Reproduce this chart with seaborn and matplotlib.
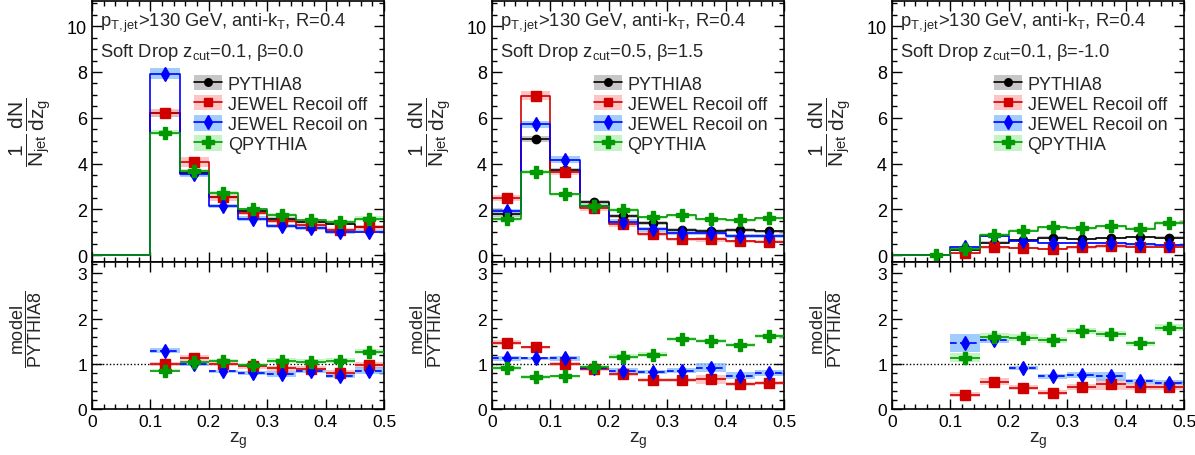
import numpy as np
import matplotlib
matplotlib.use("Agg")
import matplotlib.pyplot as plt
from matplotlib.lines import Line2D
from matplotlib.patches import Patch
from matplotlib.ticker import MultipleLocator
import seaborn as sns

nan = np.nan

# z_g binning (10 bins of 0.05)
zg_edges = [0.0, 0.05, 0.10, 0.15, 0.20, 0.25, 0.30, 0.35, 0.40, 0.45, 0.50]
zg_ticks = [0.0, 0.1, 0.2, 0.3, 0.4, 0.5]
zg_ticklabels = ["0", "0.1", "0.2", "0.3", "0.4", "0.5"]

models = ["PYTHIA8", "JEWEL Recoil off", "JEWEL Recoil on", "QPYTHIA"]
line_colors = ["black", "#d00000", "#0000ff", "#009900"]
band_colors = ["#b4b4b4", "#ffb0b0", "#80bbff", "#b0f0b0"]
markers = ["o", "s", "d", "P"]
marker_sizes = [6, 6.5, 7.5, 9]

zcut_labels = ["0.1", "0.5", "0.1"]
beta_labels = ["0.0", "1.5", "-1.0"]

# ---- panel 1 : zcut=0.1, beta=0.0 ----
p1_pythia = [nan, nan, 6.20, 3.57, 2.52, 1.95, 1.60, 1.45, 1.38, 1.25]
p1_off = [nan, nan, 6.22, 4.05, 2.53, 1.85, 1.49, 1.30, 1.10, 1.22]
p1_on = [nan, nan, 7.93, 3.55, 2.14, 1.59, 1.27, 1.20, 1.01, 1.03]
p1_q = [nan, nan, 5.35, 3.66, 2.72, 2.00, 1.74, 1.52, 1.45, 1.59]
p1_pythia_err = [nan, nan, 0.15, 0.10, 0.08, 0.07, 0.06, 0.06, 0.06, 0.06]
p1_off_err = [nan, nan, 0.15, 0.22, 0.15, 0.10, 0.10, 0.10, 0.10, 0.10]
p1_on_err = [nan, nan, 0.25, 0.12, 0.10, 0.10, 0.10, 0.10, 0.08, 0.08]
p1_q_err = [nan, nan, 0.10, 0.12, 0.10, 0.08, 0.08, 0.07, 0.07, 0.10]

p1_r_off = [nan, nan, 1.00, 1.13, 0.99, 0.94, 0.90, 0.89, 0.80, 0.98]
p1_r_on = [nan, nan, 1.29, 1.00, 0.83, 0.80, 0.77, 0.85, 0.73, 0.85]
p1_r_q = [nan, nan, 0.85, 1.03, 1.07, 0.98, 1.07, 1.05, 1.07, 1.27]
p1_r_off_err = [nan, nan, 0.04, 0.06, 0.05, 0.05, 0.06, 0.06, 0.06, 0.07]
p1_r_on_err = [nan, nan, 0.05, 0.04, 0.04, 0.05, 0.06, 0.06, 0.05, 0.07]
p1_r_q_err = [nan, nan, 0.04, 0.04, 0.04, 0.04, 0.05, 0.05, 0.05, 0.06]

# ---- panel 2 : zcut=0.5, beta=1.5 ----
p2_pythia = [1.78, 5.07, 3.70, 2.33, 1.71, 1.39, 1.10, 1.06, 1.10, 1.04]
p2_off = [2.50, 6.96, 3.63, 2.04, 1.35, 0.91, 0.69, 0.69, 0.61, 0.59]
p2_on = [1.92, 5.72, 4.17, 2.14, 1.46, 1.13, 0.96, 0.98, 0.84, 0.84]
p2_q = [1.59, 3.63, 2.65, 2.14, 1.97, 1.66, 1.74, 1.56, 1.53, 1.61]
p2_pythia_err = [0.10, 0.12, 0.10, 0.10, 0.09, 0.08, 0.08, 0.08, 0.08, 0.08]
p2_off_err = [0.12, 0.20, 0.12, 0.10, 0.10, 0.08, 0.08, 0.10, 0.06, 0.06]
p2_on_err = [0.10, 0.15, 0.15, 0.10, 0.10, 0.10, 0.08, 0.08, 0.08, 0.08]
p2_q_err = [0.08, 0.10, 0.08, 0.08, 0.08, 0.07, 0.07, 0.07, 0.07, 0.07]

p2_r_off = [1.47, 1.36, 0.99, 0.89, 0.77, 0.64, 0.64, 0.66, 0.55, 0.58]
p2_r_on = [1.12, 1.12, 1.12, 0.91, 0.85, 0.82, 0.85, 0.91, 0.74, 0.80]
p2_r_q = [0.91, 0.71, 0.72, 0.93, 1.16, 1.20, 1.55, 1.50, 1.42, 1.61]
p2_r_off_err = [0.05, 0.04, 0.05, 0.05, 0.05, 0.05, 0.05, 0.10, 0.05, 0.05]
p2_r_on_err = [0.05, 0.04, 0.05, 0.05, 0.05, 0.05, 0.05, 0.10, 0.07, 0.07]
p2_r_q_err = [0.05, 0.04, 0.04, 0.04, 0.05, 0.05, 0.05, 0.05, 0.05, 0.05]

# ---- panel 3 : zcut=0.1, beta=-1.0 ----
p3_pythia = [nan, nan, 0.23, 0.55, 0.67, 0.77, 0.70, 0.74, 0.79, 0.77]
p3_off = [nan, nan, 0.08, 0.34, 0.30, 0.27, 0.34, 0.39, 0.37, 0.37]
p3_on = [nan, nan, 0.35, 0.85, 0.61, 0.54, 0.52, 0.53, 0.47, 0.45]
p3_q = [nan, 0.00, 0.26, 0.89, 1.07, 1.21, 1.18, 1.26, 1.15, 1.40]
p3_pythia_err = [nan, nan, 0.04, 0.05, 0.05, 0.05, 0.05, 0.05, 0.05, 0.05]
p3_off_err = [nan, nan, 0.03, 0.05, 0.04, 0.04, 0.05, 0.08, 0.05, 0.06]
p3_on_err = [nan, nan, 0.06, 0.06, 0.05, 0.05, 0.05, 0.06, 0.05, 0.05]
p3_q_err = [nan, 0.03, 0.05, 0.06, 0.06, 0.06, 0.06, 0.06, 0.06, 0.07]

p3_r_off = [nan, nan, 0.32, 0.60, 0.47, 0.36, 0.49, 0.55, 0.48, 0.49]
p3_r_on = [nan, nan, 1.45, 1.53, 0.91, 0.72, 0.75, 0.72, 0.61, 0.58]
p3_r_q = [nan, nan, 1.13, 1.60, 1.58, 1.53, 1.73, 1.66, 1.45, 1.80]
p3_r_off_err = [nan, nan, 0.05, 0.08, 0.06, 0.05, 0.06, 0.12, 0.07, 0.07]
p3_r_on_err = [nan, nan, 0.20, 0.07, 0.05, 0.05, 0.06, 0.10, 0.06, 0.06]
p3_r_q_err = [nan, nan, 0.10, 0.08, 0.08, 0.07, 0.07, 0.07, 0.06, 0.08]

panels = [
    dict(vals=[p1_pythia, p1_off, p1_on, p1_q],
         errs=[p1_pythia_err, p1_off_err, p1_on_err, p1_q_err],
         ratio=[p1_r_off, p1_r_on, p1_r_q],
         ratio_err=[p1_r_off_err, p1_r_on_err, p1_r_q_err]),
    dict(vals=[p2_pythia, p2_off, p2_on, p2_q],
         errs=[p2_pythia_err, p2_off_err, p2_on_err, p2_q_err],
         ratio=[p2_r_off, p2_r_on, p2_r_q],
         ratio_err=[p2_r_off_err, p2_r_on_err, p2_r_q_err]),
    dict(vals=[p3_pythia, p3_off, p3_on, p3_q],
         errs=[p3_pythia_err, p3_off_err, p3_on_err, p3_q_err],
         ratio=[p3_r_off, p3_r_on, p3_r_q],
         ratio_err=[p3_r_off_err, p3_r_on_err, p3_r_q_err]),
]

sns.set_theme(style="ticks")
plt.rcParams["font.family"] = ["Liberation Sans", "DejaVu Sans"]
plt.rcParams["mathtext.fontset"] = "custom"
plt.rcParams["mathtext.rm"] = "Liberation Sans"
plt.rcParams["mathtext.it"] = "Liberation Sans"
plt.rcParams["mathtext.bf"] = "Liberation Sans:bold"
plt.rcParams["mathtext.sf"] = "Liberation Sans"

edges = np.array(zg_edges)
centers = 0.5 * (edges[:-1] + edges[1:])
bw = edges[1] - edges[0]


def style_axes(ax, fs):
    ax.tick_params(which="both", direction="in", top=True, right=True,
                   labelsize=fs, width=1.0, colors="black")
    ax.tick_params(which="major", length=7)
    ax.tick_params(which="minor", length=3.5)
    for s in ax.spines.values():
        s.set_linewidth(1.2)
        s.set_color("black")
    ax.set_xlim(0, 0.5)
    ax.xaxis.set_major_locator(MultipleLocator(0.1))
    ax.xaxis.set_minor_locator(MultipleLocator(0.02))


def draw_top(ax, vals, errs):
    for k in range(4):
        v = np.array(vals[k], dtype=float)
        e = np.array(errs[k], dtype=float)
        ok = ~np.isnan(v)
        ax.bar(centers[ok], 2 * e[ok], bottom=v[ok] - e[ok], width=bw,
               color=band_colors[k], alpha=0.75, lw=0, zorder=1)
    for k in range(4):
        v = np.nan_to_num(np.array(vals[k], dtype=float))
        sns.histplot(x=centers, weights=v, bins=zg_edges, element="step",
                     fill=False, color=line_colors[k], lw=1.2, ax=ax, zorder=2)
    for k in range(4):
        ax.plot(centers, vals[k], ls="none", marker=markers[k],
                ms=marker_sizes[k], color=line_colors[k], zorder=3)


def draw_ratio(ax, ratio, ratio_err):
    ax.axhline(1.0, color="black", ls=(0, (1, 1.5)), lw=1.0, zorder=1)
    for j in range(3):
        k = j + 1
        r = np.array(ratio[j], dtype=float)
        e = np.array(ratio_err[j], dtype=float)
        ok = ~np.isnan(r)
        ax.bar(centers[ok], 2 * e[ok], bottom=r[ok] - e[ok], width=bw,
               color=band_colors[k], alpha=0.75, lw=0, zorder=1)
    for j in range(3):
        k = j + 1
        r = np.array(ratio[j], dtype=float)
        ok = ~np.isnan(r)
        eb = ax.errorbar(centers[ok], r[ok], xerr=bw / 2, fmt=markers[k],
                         ms=marker_sizes[k], color=line_colors[k],
                         elinewidth=1.2, zorder=3)
        if k == 2:
            eb[2][0].set_linestyle((0, (4, 2)))


fig = plt.figure(figsize=(11.95, 4.56), dpi=100)
lefts = [0.0770, 0.4117, 0.7464]
width = 0.2444

legend_handles = [
    (Patch(facecolor=band_colors[k], alpha=0.75, lw=0),
     Line2D([0], [0], color=line_colors[k], marker=markers[k],
            ms=marker_sizes[k] * 0.9, lw=1.2))
    for k in range(4)
]

for i, pan in enumerate(panels):
    ax_top = fig.add_axes([lefts[i], 0.4232, width, 0.5724])
    ax_rat = fig.add_axes([lefts[i], 0.1009, width, 0.3223])

    draw_top(ax_top, pan["vals"], pan["errs"])
    style_axes(ax_top, 13)
    ax_top.set_ylim(-0.3, 11.1)
    ax_top.yaxis.set_major_locator(MultipleLocator(2))
    ax_top.yaxis.set_minor_locator(MultipleLocator(0.5))
    ax_top.set_yticks([0, 2, 4, 6, 8, 10])
    ax_top.set_yticklabels(["0", "2", "4", "6", "8", "10"])
    ax_top.set_xticks(zg_ticks)
    ax_top.tick_params(labelbottom=False)
    ax_top.set_xlabel("")
    ax_top.set_ylabel(r"$\dfrac{1}{N_{jet}}\,\dfrac{dN}{dz_{g}}$", fontsize=15)
    ax_top.yaxis.set_label_coords(-0.13, 0.5)

    ax_top.text(0.027, 0.905, r"p$_{\mathrm{T,jet}}$>130 GeV, anti-k$_{\mathrm{T}}$, R=0.4",
                transform=ax_top.transAxes, fontsize=13.2, va="baseline")
    ax_top.text(0.027, 0.79,
                r"Soft Drop z$_{\mathrm{cut}}$=" + zcut_labels[i] + ", β=" + beta_labels[i],
                transform=ax_top.transAxes, fontsize=13.2, va="baseline")

    ax_top.legend(legend_handles, models, loc="upper left",
                  bbox_to_anchor=(0.35, 0.718), frameon=False, fontsize=13,
                  handlelength=1.55, handleheight=0.95, labelspacing=0.12,
                  handletextpad=0.3, borderaxespad=0, borderpad=0)

    draw_ratio(ax_rat, pan["ratio"], pan["ratio_err"])
    style_axes(ax_rat, 12.5)
    ax_rat.set_ylim(0, 3.25)
    ax_rat.yaxis.set_major_locator(MultipleLocator(1))
    ax_rat.yaxis.set_minor_locator(MultipleLocator(0.2))
    ax_rat.set_xticks(zg_ticks)
    ax_rat.set_xticklabels(zg_ticklabels)
    ax_rat.set_yticks([0, 1, 2, 3])
    ax_rat.set_yticklabels(["0", "1", "2", "3"])
    ax_rat.set_xlabel(r"$z_{g}$", fontsize=14, labelpad=1)
    ax_rat.set_ylabel(r"$\dfrac{\mathrm{model}}{\mathrm{PYTHIA8}}$", fontsize=13)
    ax_rat.yaxis.set_label_coords(-0.165, 0.545)

fig.savefig("out.png", dpi=100)
